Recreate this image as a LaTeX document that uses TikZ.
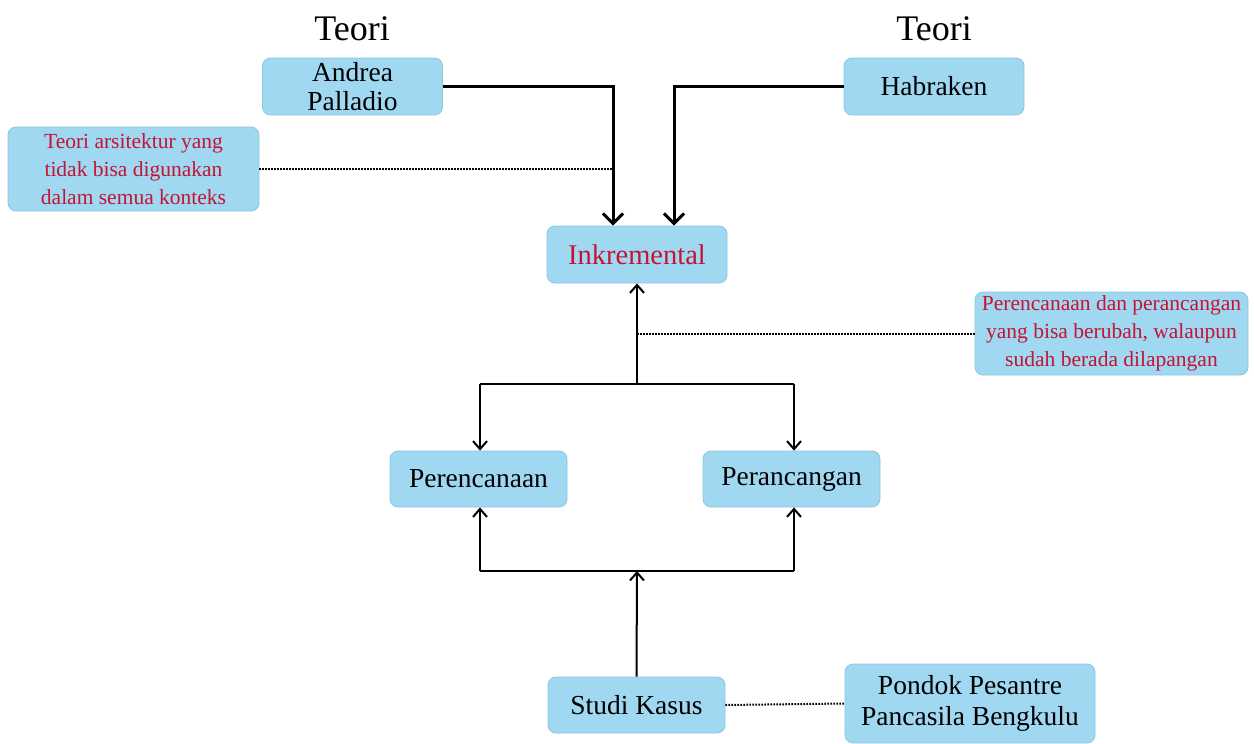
\documentclass[tikz,border=0pt]{standalone}
\usepackage{fontspec}
\setmainfont{Liberation Serif}
\usetikzlibrary{arrows.meta}
\definecolor{boxblue}{RGB}{160,216,242}
\definecolor{boxedge}{RGB}{138,198,230}
\definecolor{notered}{RGB}{196,20,52}
\begin{document}
\begin{tikzpicture}[x=1pt,y=-1pt,
  box/.style={draw=boxedge, line width=0.8pt, fill=boxblue, rounded corners=8pt,
    inner sep=0pt, align=center, font=\fontsize{27.5}{31}\selectfont},
  notebox/.style={box, text=notered, font=\fontsize{21.5}{28}\selectfont},
  header/.style={inner sep=0pt, font=\fontsize{36}{40}\selectfont},
  mainlink/.style={line width=3pt, -{Straight Barb[length=10pt,width=20pt]}},
  flow/.style={line width=2pt, -{Straight Barb[length=8pt,width=14pt]}},
  flowline/.style={line width=2pt},
  remark/.style={line width=2pt, dash pattern=on 1.6pt off 1.4pt}]
\useasboundingbox[fill=white] (0,0) rectangle (1254,744);

% titles
\node[header] (t1) at (352,29) {Teori};
\node[header] (t2) at (934,29) {Teori};

% boxes
\node[box, minimum width=180pt, minimum height=57pt] (pal) at (352.5,86.5) {Andrea\\[-2pt]Palladio};
\node[box, minimum width=180pt, minimum height=57pt] (hab) at (934,86.5) {Habraken};
\node[notebox, minimum width=251pt, minimum height=84pt] (ars) at (133.5,169) {Teori arsitektur yang\\tidak bisa digunakan\\dalam semua konteks};
\node[box, minimum width=180pt, minimum height=57pt, text=notered, font=\fontsize{28.5}{32}\selectfont] (ink) at (637,254.5) {Inkremental};
\node[notebox, minimum width=273pt, minimum height=83pt] (ber) at (1111.5,333.5) {Perencanaan dan perancangan\\yang bisa berubah, walaupun\\sudah berada dilapangan};
\node[box, minimum width=177pt, minimum height=56pt] (pln) at (478.5,479) {Perencanaan};
\node[box, minimum width=177pt, minimum height=56pt] (prc) at (791.5,479) {Perancangan};
\node[box, minimum width=177pt, minimum height=56pt] (stu) at (636.5,705) {Studi Kasus};
\node[box, minimum width=250pt, minimum height=79pt] (pon) at (970,703.5) {Pondok Pesantre\\Pancasila Bengkulu};

% junction points
\coordinate (pj) at (613,169);
\coordinate (top) at (637,384);
\coordinate (mid) at (637,333.5);
\coordinate (bot) at (637,571);
\coordinate (bl) at (480,571);
\coordinate (br) at (794,571);

% theories into Inkremental
\draw[mainlink] (pal.east) -| ([xshift=-24pt]ink.north);
\draw[mainlink] (hab.west) -| ([xshift=37pt]ink.north);
\draw[remark] (ars.east) -- (pj);

% Inkremental to planning and design
\draw[flow] (top) -- (ink.south);
\draw[flowline] (bl |- top) -- (br |- top);
\draw[flow] (bl |- top) -- (bl |- pln.north);
\draw[flow] (br |- top) -- (br |- prc.north);
\draw[remark] (mid) -- (ber.west);

% case study feeding both
\draw[flow] (stu.north) -- (bot);
\draw[flowline] (bl) -- (br);
\draw[flow] (bl) -- (bl |- pln.south);
\draw[flow] (br) -- (br |- prc.south);
\draw[remark] (stu.east) -- (pon.west);
\end{tikzpicture}
\end{document}
